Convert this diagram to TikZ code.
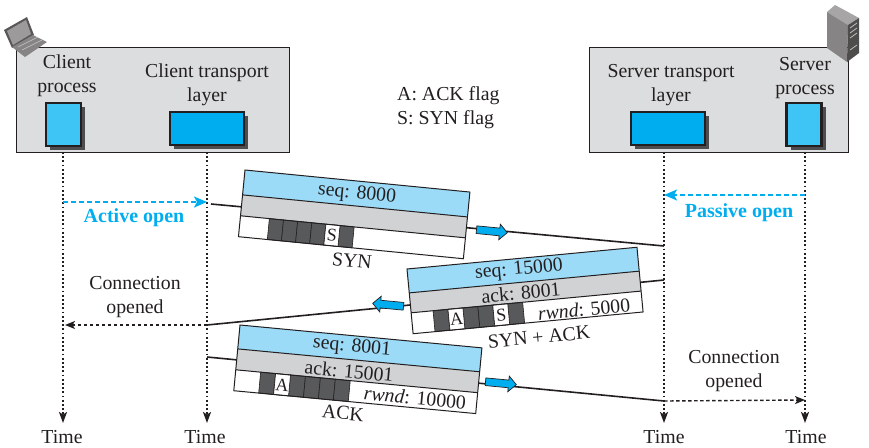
\documentclass[tikz,border=0pt]{standalone}
\usepackage{fontspec}
\setmainfont{Liberation Serif}
\usetikzlibrary{arrows.meta,shapes.arrows,shadows}
\definecolor{ink}{HTML}{231F20}
\definecolor{panel}{HTML}{DCDDDE}
\definecolor{procblue}{HTML}{3EC5F5}
\definecolor{layerblue}{HTML}{00AEEF}
\definecolor{hdrblue}{HTML}{9BDBF8}
\definecolor{hdrgray}{HTML}{D0D2D3}
\definecolor{cell}{HTML}{58595B}
\definecolor{shade}{HTML}{4D4D4F}
\tikzset{
  every node/.style={text=ink,font=\fontsize{19.8}{24}\selectfont,inner sep=0pt},
  frame/.style={draw=ink,line width=1.1pt,fill=panel,minimum height=105pt,anchor=north west},
  proc/.style={draw=ink,line width=2.4pt,fill=procblue,minimum width=35pt,minimum height=43pt,drop shadow={shadow xshift=4pt,shadow yshift=-4pt,fill=shade,opacity=1}},
  lay/.style={draw=ink,line width=1.3pt,fill=layerblue,minimum width=74pt,minimum height=33pt,drop shadow={shadow xshift=4pt,shadow yshift=-4pt,fill=shade,opacity=1}},
  life/.style={ink,line width=1.6pt,dash pattern=on 1.8pt off 2.4pt,-{Stealth[length=11pt,width=8pt,inset=2.5pt]}},
  seg/.style={ink,line width=1.6pt},
  openarrow/.style={layerblue,line width=1.9pt,dash pattern=on 5pt off 3pt,-{Stealth[length=13pt,width=11pt,inset=3pt]}},
  donearrow/.style={ink,line width=1.4pt,dash pattern=on 3.5pt off 2.5pt,-{Stealth[length=10pt,width=8pt,inset=2.5pt]}},
  blockarrow/.style={single arrow,draw=ink,line width=.7pt,fill=layerblue,inner xsep=0pt,inner ysep=3.5pt,minimum height=31pt,single arrow head extend=4pt,single arrow head indent=0pt},
  bluetext/.style={text=layerblue,font=\fontsize{20}{24}\selectfont\bfseries},
  boxln/.style={draw=ink,line width=1pt},
  flagcell/.style={draw=ink,line width=.6pt,fill=cell},
  flagtext/.style={font=\fontsize{18}{20}\selectfont},
}
\newcommand{\packet}[8]{%
 \begin{scope}[shift={(#1)},rotate=#2]
  \fill[white] (0,#4+#5) rectangle (#3,#4+#5+#6);
  \fill[hdrblue] (0,0) rectangle (#3,#4);
  \fill[hdrgray] (0,#4) rectangle (#3,#4+#5);
  \foreach \i in {0,...,5}{
    \path[flagcell] ({#7+\i*#8},#4+#5) rectangle ({#7+(\i+1)*#8},#4+#5+#6);
  }
 \end{scope}}
\newcommand{\packetframe}[6]{%
 \begin{scope}[shift={(#1)},rotate=#2]
  \path[boxln] (0,0) rectangle (#3,#4+#5+#6);
  \path[boxln] (0,#4) -- (#3,#4) (0,#4+#5) -- (#3,#4+#5);
 \end{scope}}
\begin{document}
\begin{tikzpicture}[x=1pt,y=-1pt]
\useasboundingbox (0,0) rectangle (869,447);
% panels
\node[frame,minimum width=273pt] (cframe) at (16,47) {};
\node[frame,minimum width=259pt] (sframe) at (589,47) {};
% laptop
\fill[ink!75] (4,30) -- (27,17) -- (34,35) -- (12,48) -- cycle;
\fill[ink!45] (7,31) -- (26,20) -- (31,34) -- (13,45) -- cycle;
\fill[ink!55] (12,47) -- (33,35) -- (47,42) -- (25,57) -- cycle;
\draw[ink!25,line width=.5pt] (18,47) -- (38,37) (22,50) -- (42,40);
% server
\fill[ink!40] (827,12) -- (835,5) -- (859,18) -- (848,25) -- cycle;
\fill[ink!55] (827,12) -- (848,25) -- (847,62) -- (827,48) -- cycle;
\fill[ink!80] (848,25) -- (859,18) -- (859,53) -- (847,62) -- cycle;
\draw[ink!30,line width=.8pt] (850,28) -- (857,23) (850,33) -- (857,28) (850,38) -- (857,33) (850,50) -- (857,45);
% boxes
\node[proc] (cp) at (63.5,124.5) {};
\node[lay] (ct) at (207,128.5) {};
\node[lay] (st) at (668,128.5) {};
\node[proc] (sp) at (804,124.5) {};
% box labels
\node[align=center] (cpl) at (67,76) {Client\\process};
\node[align=center] (ctl) at (207,85) {Client transport\\layer};
\node[align=center] (stl) at (671,85) {Server transport\\layer};
\node[align=center] (spl) at (805,78.5) {Server\\process};
\node[align=left,anchor=west] (legend1) at (397,96) {A: ACK flag};
\node[align=left,anchor=west] (legend2) at (397,120) {S: SYN flag};
% time labels
\node (t1) at (62,437) {Time};
\node (t2) at (205,437) {Time};
\node (t3) at (664,437) {Time};
\node (t4) at (806,437) {Time};
% coordinates on lifelines
\coordinate (l1a) at (63,152);
\coordinate (l2a) at (207,152);
\coordinate (l3a) at (664,152);
\coordinate (l4a) at (805,152);
\coordinate (e1) at (63,423);
\coordinate (e2) at (207,423);
\coordinate (e3) at (664,423);
\coordinate (e4) at (805,423);
\draw[life] (l1a) -- (e1);
\draw[life] (l2a) -- (e2);
\draw[life] (l3a) -- (e3);
\draw[life] (l4a) -- (e4);
% open arrows
\coordinate (ao1) at (63,202);
\coordinate (ao2) at (207,202);
\coordinate (po1) at (805,195);
\coordinate (po2) at (664,195);
\draw[openarrow] (ao1) -- (ao2);
\draw[openarrow] (po1) -- (po2);
\node[bluetext] (aol) at (134,218) {Active open};
\node[bluetext] (pol) at (739,213) {Passive open};
% message lines
\coordinate (m1a) at (211,204);
\coordinate (m1b) at (664,246);
\coordinate (m2a) at (664,280);
\coordinate (m2b) at (207,325);
\coordinate (m2c) at (65,325);
\coordinate (m3a) at (207,357);
\coordinate (m3b) at (664,401);
\coordinate (m3c) at (805,400);
\draw[seg] (m1a) -- (m1b);
\draw[seg] (m2a) -- (m2b);
\draw[seg] (m3a) -- (m3b);
\draw[donearrow] (m2b) -- (m2c);
\draw[donearrow] (m3b) -- (m3c);
\node[align=center] (co1) at (135,297) {Connection\\opened};
\node[align=center] (co2) at (734,371.5) {Connection\\opened};
% packet 1
\packet{245,170}{-5.6}{226}{25}{21}{21}{29}{14.2}
\begin{scope}[shift={(245,170)},rotate=-5.6]
 \path[flagcell,fill=white] ({29+4*14.2},46) rectangle ({29+5*14.2},67);
 \node[flagtext,rotate=-5.6] (s1) at ({29+4.5*14.2},56.5) {S};
\end{scope}
\packetframe{245,170}{-5.6}{226}{25}{21}{21}
\node[rotate=-5.6] (seq1) at (357,194) {seq: 8000};
\node[rotate=-5.6] (syn) at (352,261) {SYN};
% packet 2
\packet{407,269}{5.4}{231}{24}{20}{21}{22}{15}
\begin{scope}[shift={(407,269)},rotate=5.4]
 \path[flagcell,fill=white] (37,44) rectangle (52,65);
 \path[flagcell,fill=white] (82,44) rectangle (97,65);
 \node[flagtext,rotate=5.4] (a2) at (44.5,54.5) {A};
 \node[flagtext,rotate=5.4] (s2) at (89.5,54.5) {S};
\end{scope}
\packetframe{407,269}{5.4}{231}{24}{20}{21}
\node[rotate=5.4] (seq2) at (519,270) {seq: 15000};
\node[rotate=5.4] (ack2) at (521,293) {ack: 8001};
\node[rotate=5.4] (rw2) at (584,309) {\textit{rwnd}: 5000};
\node[rotate=5.4] (synack) at (539,337) {SYN + ACK};
% packet 3
\packet{240,325}{-5.4}{243}{24}{21}{21}{25}{15}
\begin{scope}[shift={(240,325)},rotate=-5.4]
 \path[flagcell,fill=white] (40,45) rectangle (55,66);
 \node[flagtext,rotate=-5.4] (a3) at (47.5,55.5) {A};
\end{scope}
\packetframe{240,325}{-5.4}{243}{24}{21}{21}
\node[rotate=-5.4] (seq3) at (352,347) {seq: 8001};
\node[rotate=-5.4] (ack3) at (349,371) {ack: 15001};
\node[rotate=-5.4] (rw3) at (415,398) {\textit{rwnd}: 10000};
\node[rotate=-5.4] (ackl) at (343,413) {ACK};
% block arrows
\node[blockarrow,rotate=-5.6] (b1) at (490,231) {};
\node[blockarrow,rotate=174.6] (b2) at (390,305) {};
\node[blockarrow,rotate=-5.4] (b3) at (499,383) {};
\end{tikzpicture}
\end{document}
